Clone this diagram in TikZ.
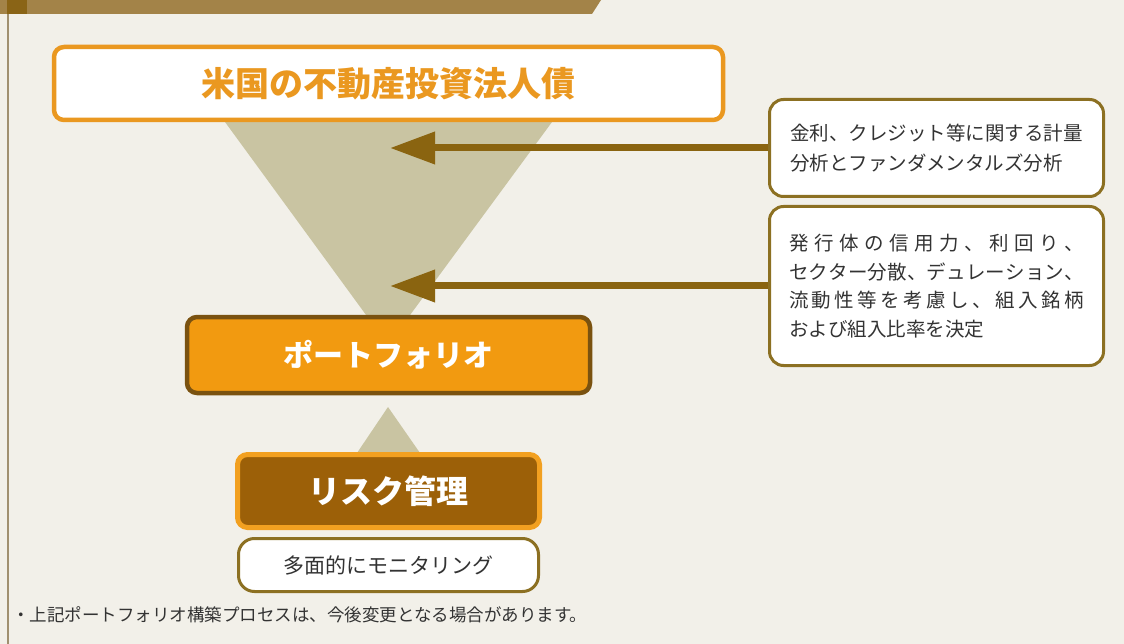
\documentclass[tikz,border=0pt]{standalone}
\usepackage{fontspec}
\newfontfamily\jp{Noto Sans CJK JP}
\usetikzlibrary{arrows.meta}
\definecolor{bg}{RGB}{242,240,233}
\definecolor{hdr}{RGB}{163,131,72}
\definecolor{hdrdark}{RGB}{138,100,22}
\definecolor{sideline}{RGB}{160,144,112}
\definecolor{funnel}{RGB}{201,196,162}
\definecolor{torange}{RGB}{234,152,32}
\definecolor{porange}{RGB}{242,154,16}
\definecolor{pborder}{RGB}{122,82,16}
\definecolor{rfill}{RGB}{156,96,8}
\definecolor{rborder}{RGB}{242,160,32}
\definecolor{olive}{RGB}{140,112,34}
\definecolor{arrowc}{RGB}{138,100,16}
\definecolor{txt}{RGB}{51,51,51}
\tikzset{
  wbox/.style={draw=olive, line width=3, fill=white, rounded corners=14, inner sep=0, text=txt},
  feed/.style={draw=arrowc, line width=7, -{Triangle[length=45pt,width=31pt]}},
}
\begin{document}
\begin{tikzpicture}[x=1pt,y=-1pt]
\useasboundingbox (0,0) rectangle (1124,644);
\fill[bg] (0,0) rectangle (1124,644);
% header band
\fill[hdr] (0,0) -- (601,0) -- (592,14) -- (0,14) -- cycle;
\fill[hdrdark] (7,0) rectangle (27,14);
\draw[sideline, line width=2] (8,14) -- (8,644);
% funnel
\fill[funnel] (225,122) -- (552,122) -- (388,345) -- cycle;
\fill[funnel] (357,453) -- (420,453) -- (388,407) -- cycle;
% top box
\node[draw=torange, line width=4.5, fill=white, rounded corners=10, minimum width=669, minimum height=73, inner sep=0,
      text=torange, font=\jp\bfseries\fontsize{34}{34}\selectfont] (top) at (388.5,83.5) {米国の不動産投資法人債};
% portfolio
\node[draw=pborder, line width=4.5, fill=porange, rounded corners=10, minimum width=403, minimum height=76, inner sep=0,
      text=white, font=\jp\bfseries\fontsize{30}{30}\selectfont] (pf) at (388.5,355) {ポートフォリオ};
% risk
\node[draw=rborder, line width=5, fill=rfill, rounded corners=10, minimum width=302, minimum height=73, inner sep=0,
      text=white, font=\jp\bfseries\fontsize{32}{32}\selectfont] (risk) at (388.5,491) {リスク管理};
% monitoring
\node[wbox, rounded corners=16, minimum width=300, minimum height=53, font=\jp\fontsize{21}{21}\selectfont] (mon) at (388.5,565)
  {多面的にモニタリング};
% right boxes
\node[wbox, minimum width=334, minimum height=97, align=left, font=\jp\fontsize{19.5}{30}\selectfont] (b1) at (936.5,148)
  {金利、クレジット等に関する計量\\分析とファンダメンタルズ分析};
\node[wbox, minimum width=334, minimum height=159, align=left, font=\jp\fontsize{19.5}{28.5}\selectfont] (b2) at (936.5,286)
  {\makebox[295pt][s]{発\hfill 行\hfill 体\hfill の\hfill 信\hfill 用\hfill 力\hfill 、\hfill 利\hfill 回\hfill り\hfill 、}\\
   \makebox[295pt][s]{セ\hfill ク\hfill タ\hfill ー\hfill 分\hfill 散\hfill 、\hfill デ\hfill ュ\hfill レ\hfill ー\hfill シ\hfill ョ\hfill ン\hfill 、}\\
   \makebox[295pt][s]{流\hfill 動\hfill 性\hfill 等\hfill を\hfill 考\hfill 慮\hfill し\hfill 、\hfill 組\hfill 入\hfill 銘\hfill 柄}\\
   および組入比率を決定};
% arrows
\coordinate (t1) at (390,148);
\coordinate (t2) at (390,286);
\draw[feed] (b1.west) -- (t1);
\draw[feed] (b2.west) -- (t2);
% footnote
\node[anchor=west, inner sep=0, text=txt, font=\jp\fontsize{17.5}{17.5}\selectfont] (note) at (12,615)
  {・上記ポートフォリオ構築プロセスは、今後変更となる場合があります。};
\end{tikzpicture}
\end{document}
